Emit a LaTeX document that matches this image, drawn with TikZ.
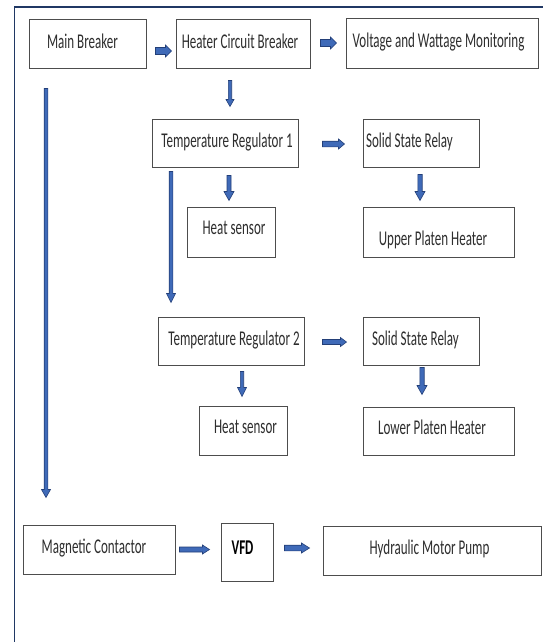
\documentclass[tikz,border=0pt]{standalone}
\usepackage{fontspec}
\setmainfont{Carlito}
\usetikzlibrary{calc}
\definecolor{arrfill}{HTML}{3F6AB8}
\definecolor{arrline}{HTML}{233F78}
\definecolor{framec}{HTML}{203864}
\definecolor{boxline}{HTML}{4D4D4D}
\definecolor{txtc}{HTML}{2E2E2E}
\newcommand\bxt[2]{\makebox[0pt]{\kern#1pt\scalebox{0.62}[1]{#2}\kern-#1pt}}
\tikzset{
  box/.style={draw=boxline, line width=1pt, rectangle, inner sep=0pt, text=txtc,
    font=\fontsize{21}{23}\selectfont, text height=8.5pt, text depth=0pt},
  blk/.style={draw=arrline, fill=arrfill, line width=0.6pt},
  harr/.style n args={3}{blk, to path={let \p1=(\tikztostart), \p2=(\tikztotarget) in
    (\x1,\y1+#1pt) -- (\x2-#3pt,\y1+#1pt) -- (\x2-#3pt,\y1+#2pt) -- (\x2,\y1)
    -- (\x2-#3pt,\y1-#2pt) -- (\x2-#3pt,\y1-#1pt) -- (\x1,\y1-#1pt) -- cycle}},
  varr/.style n args={3}{blk, to path={let \p1=(\tikztostart), \p2=(\tikztotarget) in
    (\x1-#1pt,\y1) -- (\x1-#1pt,\y2+#3pt) -- (\x1-#2pt,\y2+#3pt) -- (\x1,\y2)
    -- (\x1+#2pt,\y2+#3pt) -- (\x1+#1pt,\y2+#3pt) -- (\x1+#1pt,\y1) -- cycle}},
}
\begin{document}
\begin{tikzpicture}[x=1pt,y=-1pt]
\useasboundingbox (0,0) rectangle (543,642);
\clip (0,0) rectangle (543,642);
\fill[white] (0,0) rectangle (543,642);
\draw[framec, line width=1.2pt] (14.3,7) rectangle (600,700);

% boxes
\node[box, minimum width=117pt, minimum height=48pt] (mb) at (87.5,44) {\bxt{-5}{Main Breaker}};
\node[box, minimum width=134pt, minimum height=48pt] (hcb) at (243,44) {\bxt{-3}{Heater Circuit Breaker}};
\node[box, minimum width=192pt, minimum height=49pt] (vwm) at (442,43.5) {\bxt{-3.5}{Voltage and Wattage Monitoring}};
\node[box, minimum width=146pt, minimum height=48pt] (tr1) at (225,143) {\bxt{2}{Temperature Regulator 1}};
\node[box, minimum width=116pt, minimum height=48pt] (ssr1) at (421,143) {\bxt{-11.5}{Solid State Relay}};
\node[box, minimum width=88pt, minimum height=50pt, text height=5.5pt] (hs1) at (231,232) {\bxt{3}{Heat sensor}};
\node[box, minimum width=151pt, minimum height=50pt, text height=27.5pt] (uph) at (438.5,232) {\bxt{-5.5}{Upper Platen Heater}};
\node[box, minimum width=146pt, minimum height=48pt] (tr2) at (231,341) {\bxt{3}{Temperature Regulator 2}};
\node[box, minimum width=116pt, minimum height=48pt] (ssr2) at (421,341) {\bxt{-5.5}{Solid State Relay}};
\node[box, minimum width=88pt, minimum height=49pt, text height=6.5pt] (hs2) at (243,430.5) {\bxt{2.5}{Heat sensor}};
\node[box, minimum width=151pt, minimum height=48pt, text height=6.5pt] (lph) at (438.5,431) {\bxt{-6.5}{Lower Platen Heater}};
\node[box, minimum width=152pt, minimum height=49pt] (mc) at (99,549.5) {\bxt{-5}{Magnetic Contactor}};
\node[box, minimum width=52pt, minimum height=58pt, text=black, text height=5.5pt] (vfd) at (247,552) {\bxt{-4.5}{\bfseries VFD}};
\node[box, minimum width=218pt, minimum height=49pt] (hmp) at (432,550.5) {\bxt{-2.5}{Hydraulic Motor Pump}};

% block arrows
\draw[harr={3.5}{6}{6}] ([shift={(9,7)}]mb.east) to ([shift={(-4,7)}]hcb.west);
\draw[harr={3.5}{6}{6}] ([shift={(10,-1)}]hcb.east) to ([shift={(-9,-1)}]vwm.west);
\draw[varr={1.7}{4}{7}] ([shift={(-13,12)}]hcb.south) to ([shift={(5,-12)}]tr1.north);
\draw[harr={2.8}{5}{6}] ([shift={(24,1)}]tr1.east) to ([shift={(-18,1)}]ssr1.west);
\draw[varr={2}{5}{9}] ([shift={(4,8)}]tr1.south) to ([shift={(-2,-6)}]hs1.north);
\draw[varr={1.8}{4.5}{9}] ([shift={(-54,4)}]tr1.south) to ([shift={(-60,-14)}]tr2.north);
\draw[varr={2.2}{5}{9}] ([shift={(-1,7)}]ssr1.south) to ([shift={(-18.5,-6)}]uph.north);
\draw[harr={2.5}{4.5}{6}] ([shift={(18,1)}]tr2.east) to ([shift={(-16,1)}]ssr2.west);
\draw[varr={1.7}{4.5}{9}] ([shift={(11,6)}]tr2.south) to ([shift={(-1,-9)}]hs2.north);
\draw[varr={2.2}{5}{9}] ([shift={(1,2)}]ssr2.south) to ([shift={(-16.5,-12)}]lph.north);
\draw[varr={1.8}{4.5}{8}] ([shift={(-41.5,20)}]mb.south) to ([shift={(-53,-27)}]mc.north);
\draw[harr={2.5}{4.5}{7}] ([shift={(4,0)}]mc.east) to ([shift={(-11,-3)}]vfd.west);
\draw[harr={2.8}{5}{8}] ([shift={(11,-4)}]vfd.east) to ([shift={(-13,-2)}]hmp.west);
\end{tikzpicture}
\end{document}
